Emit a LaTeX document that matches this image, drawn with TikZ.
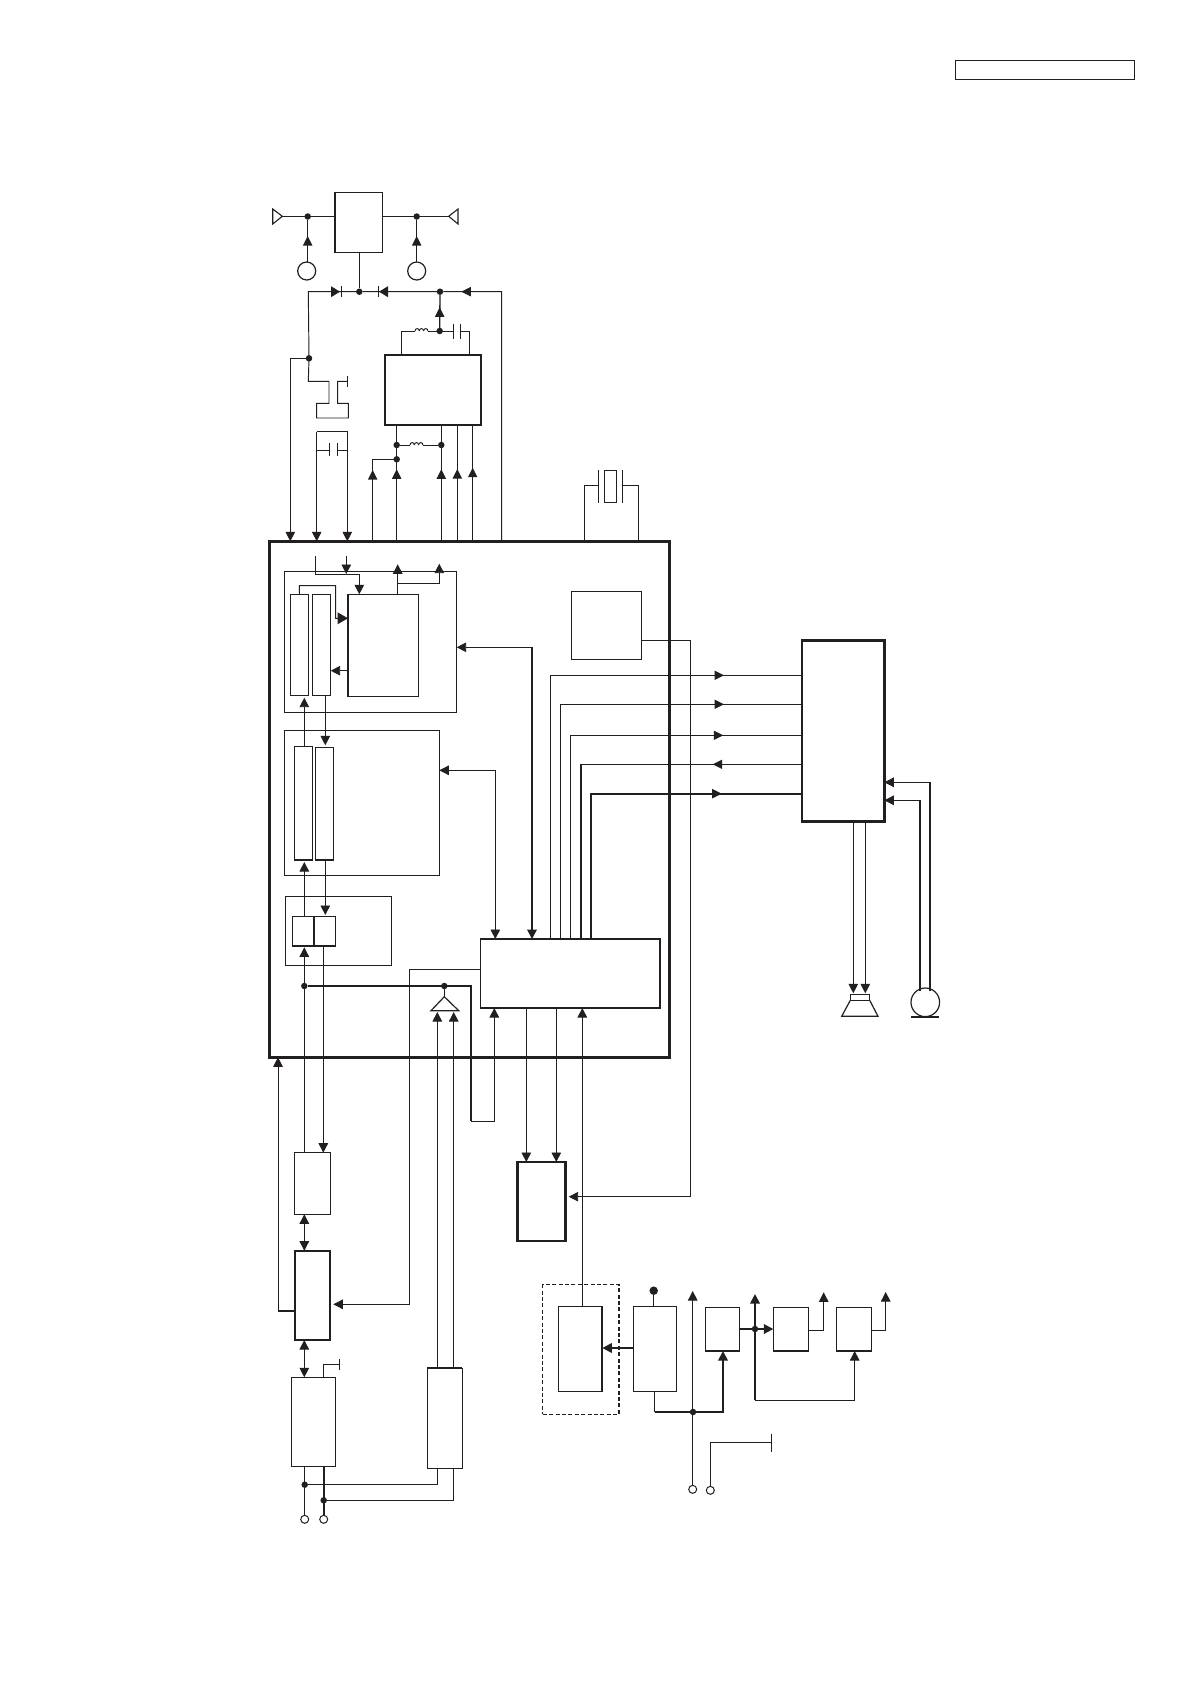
\documentclass[tikz,border=0pt]{standalone}
\usetikzlibrary{arrows.meta}
\definecolor{k}{HTML}{231F20}
\tikzset{
  wire/.style={draw=k,line width=0.95pt,line join=miter},
  med/.style={draw=k,line width=1.9pt,line join=miter},
  arr/.style={-{Triangle[length=9.5pt,width=9.5pt]}},
  barr/.style={{Triangle[length=9.5pt,width=9.5pt]}-{Triangle[length=9.5pt,width=9.5pt]}},
  box/.style={draw=k,line width=1.1pt,rectangle,inner sep=0pt,outer sep=0pt},
  boxm/.style={box,line width=1.6pt},
  boxt/.style={box,line width=2.3pt},
  boxx/.style={box,line width=2.9pt},
  jn/.style={circle,fill=k,draw=none,inner sep=0pt,outer sep=0pt,minimum size=6.5pt},
  term/.style={circle,draw=k,fill=white,line width=1pt,inner sep=0pt,outer sep=0pt,minimum size=8pt},
  ring/.style={circle,draw=k,line width=1.2pt,inner sep=0pt,outer sep=0pt,minimum size=18pt}
}
\newcommand{\bx}[6]{\node[#2,minimum width={(#5-#3)*1pt},minimum height={(#6-#4)*1pt}] (#1) at ({(#3+#5)/2},{(#4+#6)/2}) {};}
\newcommand{\jnn}[3]{\node[jn] (#1) at (#2,#3) {};}
\newcommand{\tipL}[2]{\fill[k] (#1,#2) -- ++(9.5,-4.75) -- ++(0,9.5) -- cycle;}
\newcommand{\tipR}[2]{\fill[k] (#1,#2) -- ++(-9.5,-4.75) -- ++(0,9.5) -- cycle;}
\newcommand{\tipU}[2]{\fill[k] (#1,#2) -- ++(-4.75,9.5) -- ++(9.5,0) -- cycle;}
\newcommand{\coil}[2]{\foreach \i in {0,1,2}{\draw[wire] ({#1+\i*4.3},#2) .. controls +(0,-3.2) and +(0,-3.2) .. +(4.3,0);}}
\begin{document}
\begin{tikzpicture}[x=1pt,y=-1pt]
\useasboundingbox[fill=white] (0,0) rectangle (1190,1684);
% boxes
\bx{label}{box}{955.3}{60.3}{1134.3}{79.3}
\bx{tuner}{box}{335}{192.7}{382.5}{252.7}
\bx{pa}{boxt}{385}{355}{481}{425.3}
\bx{main}{boxx}{269.3}{541.3}{669.3}{1057.3}
\bx{A}{box}{284.3}{571.3}{456.7}{712.3}
\bx{Aa}{box}{290.3}{594.3}{308.7}{695.3}
\bx{Ab}{box}{312.3}{594.3}{330.7}{695.3}
\bx{Ac}{boxm}{348}{594.3}{418.3}{696.3}
\bx{clk}{box}{571.3}{591.3}{641.7}{659.3}
\bx{B}{box}{284.3}{730.3}{439.3}{875.3}
\bx{Ba}{boxm}{294.3}{746.3}{312.3}{860}
\bx{Bb}{box}{315.3}{747.3}{333.7}{860}
\bx{C}{box}{285.3}{896.3}{391.3}{965.3}
\bx{Ca}{boxm}{292.3}{916.3}{314}{946}
\bx{Cb}{box}{314}{916.3}{335.7}{946}
\bx{cpu}{boxm}{480.3}{939}{660}{1008}
\bx{codec}{boxx}{802}{640.7}{884.3}{821.3}
\bx{mem}{box}{294.3}{1152.7}{330.7}{1214.3}
\bx{D}{boxt}{294.7}{1250.7}{330.3}{1340}
\bx{E}{boxx}{517.3}{1162}{565.7}{1241}
\bx{F}{box}{291.3}{1377.3}{335.7}{1466.3}
\bx{G}{box}{427.3}{1368.3}{462.3}{1468.3}
\bx{H}{box}{558.3}{1306.3}{602.3}{1391.3}
\bx{I}{box}{633.3}{1306.3}{676.7}{1391.3}
\bx{J}{box}{705.3}{1307.3}{739.7}{1351}
\bx{K}{box}{773.3}{1307.3}{808.7}{1351}
\bx{L}{box}{836.7}{1307.3}{871.7}{1351}
\node[draw=k,line width=1.5pt,dash pattern=on 4pt off 2.4pt,rectangle,inner sep=0pt,outer sep=0pt,minimum width=76.3pt,minimum height=129.6pt] (dash) at (580.85,1349.5) {};
\draw[k,line width=2pt] (602.3,1306.3) -- (602.3,1391.3);
\draw[k,line width=2pt] (427.3,1368.3) -- (462.3,1368.3);
% junctions, terminals
\jnn{ja}{307.7}{216.5}\jnn{jb}{416.7}{216.5}
\jnn{jc}{359.3}{291.7}\jnn{jd}{440}{291.7}\jnn{je}{439.7}{331}
\jnn{jf}{309}{358.3}\jnn{jg}{396.7}{445}\jnn{jh}{441.3}{445}\jnn{ji}{396.7}{459.3}
\jnn{jj}{304.3}{986}\jnn{jk}{444.3}{986}
\jnn{jl}{304.7}{1484.7}\jnn{jm}{323.7}{1500.3}
\jnn{jn2}{693}{1412}\jnn{jo}{755}{1329}
\node[jn,minimum size=8.5pt] (jp) at (653.7,1290.7) {};
\node[term] (ta) at (304.7,1519.3) {};
\node[term] (tb) at (323.7,1519.3) {};
\node[term] (tc) at (692.7,1489.3) {};
\node[term] (td) at (710.3,1490.3) {};
\node[ring] (ca) at (306.7,271) {};
\node[ring] (cb) at (416.7,271) {};
\node[ring,minimum size=28.6pt] (mic) at (925.3,1002.3) {};
% antennas
\coordinate (anl) at (282.3,216.3); \coordinate (anr) at (448.7,216.3);
\draw[k,line width=1.1pt] (anl) -- (272.7,209) -- (272.7,224) -- cycle;
\draw[k,line width=1.1pt] (anr) -- (458,209) -- (458,224) -- cycle;
\draw[wire] (anl) -- (tuner.west |- anl);
\draw[wire] (tuner.east |- anr) -- (anr);
\draw[wire] (307.7,262) -- (ja);
\tipU{307.7}{236}
\draw[wire] (cb.north) -- (jb);
\tipU{416.7}{236}
\draw[wire] (tuner.south -| jc) -- (jc);
% diode row
\coordinate (drl) at (308.3,291.7);
\coordinate (drr) at (501.7,291.7);
\draw[wire] (main.north -| drr) -- (drr) -- (jd) -- (jc) -- (drl) -- (jf.center) -- (308.3,381.3) -- (329,381.3) -- (329,403.3) -- (316.7,403.3) -- (316.7,418) -- (348.3,418) -- (348.3,403.3) -- (337.7,403.3) -- (337.7,381.3) -- (347.3,381.3);
\draw[wire] (347.3,376) -- (347.3,386.7);
\fill[k] (340,291.7) -- (331,286.2) -- (331,297.2) -- cycle;
\draw[wire] (341.3,286) -- (341.3,297.4);
\fill[k] (379,291.7) -- (388,286.2) -- (388,297.2) -- cycle;
\draw[wire] (378.3,286) -- (378.3,297.4);
\tipL{461.3}{291.7}
\draw[wire,arr] (jf.center) -- (290.3,358.3) -- (main.north -| 290.3,0);
% above pa
\draw[wire,line width=1.3pt] (je.center) -- (jd);
\tipU{439.7}{307.3}
\draw[wire] (pa.north -| 401,0) -- (401,331) -- (415,331);
\coil{415}{331}
\draw[wire] (427.9,331) -- (453,331);
\draw[wire] (453,323.5) -- (453,338.5);
\draw[wire] (460.3,323.5) -- (460.3,338.5);
\draw[wire] (460.3,331) -- (469,331) -- (pa.north -| 469,0);
% below pa
\draw[wire] (pa.south -| jg) -- (main.north -| jg);
\tipU{396.7}{469.3}
\draw[wire] (jg) -- (410,445);
\coil{410}{445}
\draw[wire] (422.9,445) -- (jh);
\draw[wire] (pa.south -| jh) -- (main.north -| jh);
\tipU{441.3}{469.3}
\draw[wire] (pa.south -| 457.3,0) -- (main.north -| 457.3,0);
\tipU{457.3}{469}
\draw[wire] (pa.south -| 472.7,0) -- (main.north -| 472.7,0);
\tipU{472.7}{467.7}
\draw[wire] (ji.center) -- (372.7,459.3) -- (main.north -| 372.7,0);
\tipU{372.7}{470}
% switch cap
\draw[wire] (329,450) -- (316.7,450);
\draw[wire,arr] (316.7,431.7) -- (main.north -| 316.7,0);
\draw[wire,arr] (316.7,431.7) -- (347.3,431.7) -- (main.north -| 347.3,0);
\draw[wire] (329,443.3) -- (329,455.7);
\draw[wire] (337.3,443.3) -- (337.3,455.7);
\draw[wire] (337.3,450) -- (347.3,450);
% crystal
\draw[wire] (main.north -| 584.3,0) -- (584.3,485.3) -- (598.3,485.3);
\draw[wire] (598.3,470) -- (598.3,503.3);
\draw[wire] (622.3,470) -- (622.3,503.3);
\draw[wire] (622.3,485.3) -- (638.3,485.3) -- (main.north -| 638.3,0);
\draw[wire] (604.3,470.7) rectangle (616.3,502);
% inside A
\draw[wire,arr] (315.7,556) -- (315.7,574.7) -- (359.3,574.7) -- (Ac.north -| 359.3,0);
\draw[wire,arr] (346.3,556) -- (346.3,574);
\draw[wire] (Aa.north) -- (299.3,585.7) -- (335.7,585.7) -- (335.7,618.3) -- (348,618.3);
\fill[k] (348,618.3) -- (337.5,612.3) -- (337.5,624.3) -- cycle;
\draw[wire,arr] (Ac.west |- 0,670.7) -- (Ab.east |- 0,670.7);
\draw[wire,line width=1.3pt,arr] (Ac.north -| 397.7,0) -- (397.7,564.3);
\draw[wire,arr] (397.7,583.3) -- (439.3,583.3) -- (439.3,563.7);
\draw[wire,arr] (Ba.north -| 304.3,0) -- (304.3,697.7);
\draw[wire,arr] (Ab.south -| 325.3,0) -- (325.3,745.3);
% B C
\draw[wire,arr] (Ca.north -| 304.3,0) -- (304.3,862);
\draw[wire,arr] (Bb.south -| 325.3,0) -- (325.3,915);
\draw[wire,arr] (mem.north -| 304.3,0) -- (304.3,947.3);
\draw[wire,arr] (Cb.south -| 323.3,0) -- (mem.north -| 323.3,0);
% A, B feeds
\draw[wire,arr] (532,647.3) -- (A.east |- 0,647.3);
\draw[med,arr] (532,647.3) -- (cpu.north -| 532,0);
\draw[wire,arr] (495.3,770.3) -- (B.east |- 0,770.3);
\draw[wire,arr] (495.3,770.3) -- (cpu.north -| 495.3,0);
% buses to codec
\draw[wire] (cpu.north -| 550.3,0) -- (550.3,675.3) -- (codec.west |- 0,675.3);
\draw[wire] (cpu.north -| 560.3,0) -- (560.3,704.3) -- (codec.west |- 0,704.3);
\draw[wire] (cpu.north -| 570.3,0) -- (570.3,735.3) -- (codec.west |- 0,735.3);
\draw[med] (cpu.north -| 580.7,0) -- (580.7,764.3);
\draw[wire] (580.7,764.3) -- (codec.west |- 0,764.3);
\draw[med] (cpu.north -| 590.7,0) -- (590.7,793.7) -- (codec.west |- 0,793.7);
\tipR{724}{675.3}\tipR{724}{704.3}\tipR{723.3}{735.3}\tipL{712.7}{764.3}\tipR{721.7}{793.7}
% clock
\draw[wire,arr,shorten >=3pt] (clk.east |- 0,640.7) -- (690.7,640.7) -- (690.7,1196.7) -- (E.east |- 0,1196.7);
% speaker / mic
\draw[wire,arr] (codec.south -| 853.3,0) -- (853.3,993.3);
\draw[wire,arr] (codec.south -| 865.3,0) -- (865.3,993.3);
\draw[k,line width=1.2pt] (850.3,994.7) rectangle (869.7,1000.3);
\draw[k,line width=1.2pt] (850.3,1000.3) -- (841.7,1016.3) -- (878,1016.3) -- (869.7,1000.3);
\draw[k,line width=1.8pt] (911.3,1016.7) -- (939,1016.7);
\draw[med] (919.7,990.5) -- (919.7,800.3);
\draw[wire,arr] (919.7,800.3) -- (codec.east |- 0,800.3);
\draw[med] (930,990.5) -- (930,782.3);
\draw[wire,arr] (930,782.3) -- (codec.east |- 0,782.3);
% cpu links
\draw[wire,arr,shorten >=3pt] (cpu.west |- 0,969.3) -- (409.3,969.3) -- (409.3,1304.3) -- (D.east |- 0,1304.3);
\draw[wire,arr] (cpu.south -| 526.3,0) -- (E.north -| 526.3,0);
\draw[wire,arr] (cpu.south -| 556.3,0) -- (E.north -| 556.3,0);
\draw[wire,arr] (H.north -| 582.3,0) -- (cpu.south -| 582.3,0);
\draw[med] (jj) -- (471,986) -- (471,1121);
\draw[wire,arr] (471,1121) -- (494.3,1121) -- (cpu.south -| 494.3,0);
% amp triangle
\draw[wire] (jk) -- (444.3,996.7);
\draw[k,line width=1.2pt] (444.3,996.7) -- (431,1010.7) -- (458.7,1010.7) -- cycle;
\draw[wire,arr] (G.north -| 437.3,0) -- (437.3,1012);
\draw[wire,arr] (G.north -| 453.7,0) -- (453.7,1012);
% left chain
\draw[wire,barr] (D.north -| 304.3,0) -- (mem.south -| 304.3,0);
\draw[wire,barr] (F.north -| 304.3,0) -- (D.south -| 304.3,0);
\draw[med] (D.west |- 0,1310.7) -- (278,1310.7);
\draw[wire,arr] (278,1310.7) -- (main.south -| 278,0);
\draw[wire] (F.north -| 323.3,0) -- (323.3,1364.3) -- (339.3,1364.3);
\draw[wire] (339.3,1359) -- (339.3,1369.7);
\draw[wire] (F.south -| ta) -- (ta);
\draw[med] (F.south -| tb) -- (tb);
\draw[wire] (jl) -- (437.3,1484.7) -- (G.south -| 437.3,0);
\draw[wire] (jm) -- (453.7,1500.3) -- (G.south -| 453.7,0);
% power section
\draw[med,arr] (I.west |- 0,1348) -- (H.east |- 0,1348);
\draw[wire] (jp) -- (I.north -| jp);
\draw[wire] (I.south -| 654.7,0) -- (654.7,1412);
\draw[med] (654.7,1412) -- (jn2);
\draw[med,arr] (jn2) -- (723,1412) -- (J.south -| 723,0);
\draw[wire,arr] (tc) -- (692.7,1291);
\draw[wire] (td) -- (710.3,1442.3) -- (771.3,1442.3);
\draw[wire] (771.3,1434) -- (771.3,1452);
\draw[med,arr] (J.east |- 0,1329) -- (K.west |- 0,1329);
\draw[med,arr] (jo |- 0,1400) -- (755,1294);
\draw[wire,arr] (755,1400) -- (854.7,1400) -- (L.south -| 854.7,0);
\draw[wire,arr] (K.east |- 0,1330.3) -- (823.7,1330.3) -- (823.7,1292.3);
\draw[wire,arr] (L.east |- 0,1330.3) -- (885.7,1330.3) -- (885.7,1292);
\end{tikzpicture}
\end{document}
